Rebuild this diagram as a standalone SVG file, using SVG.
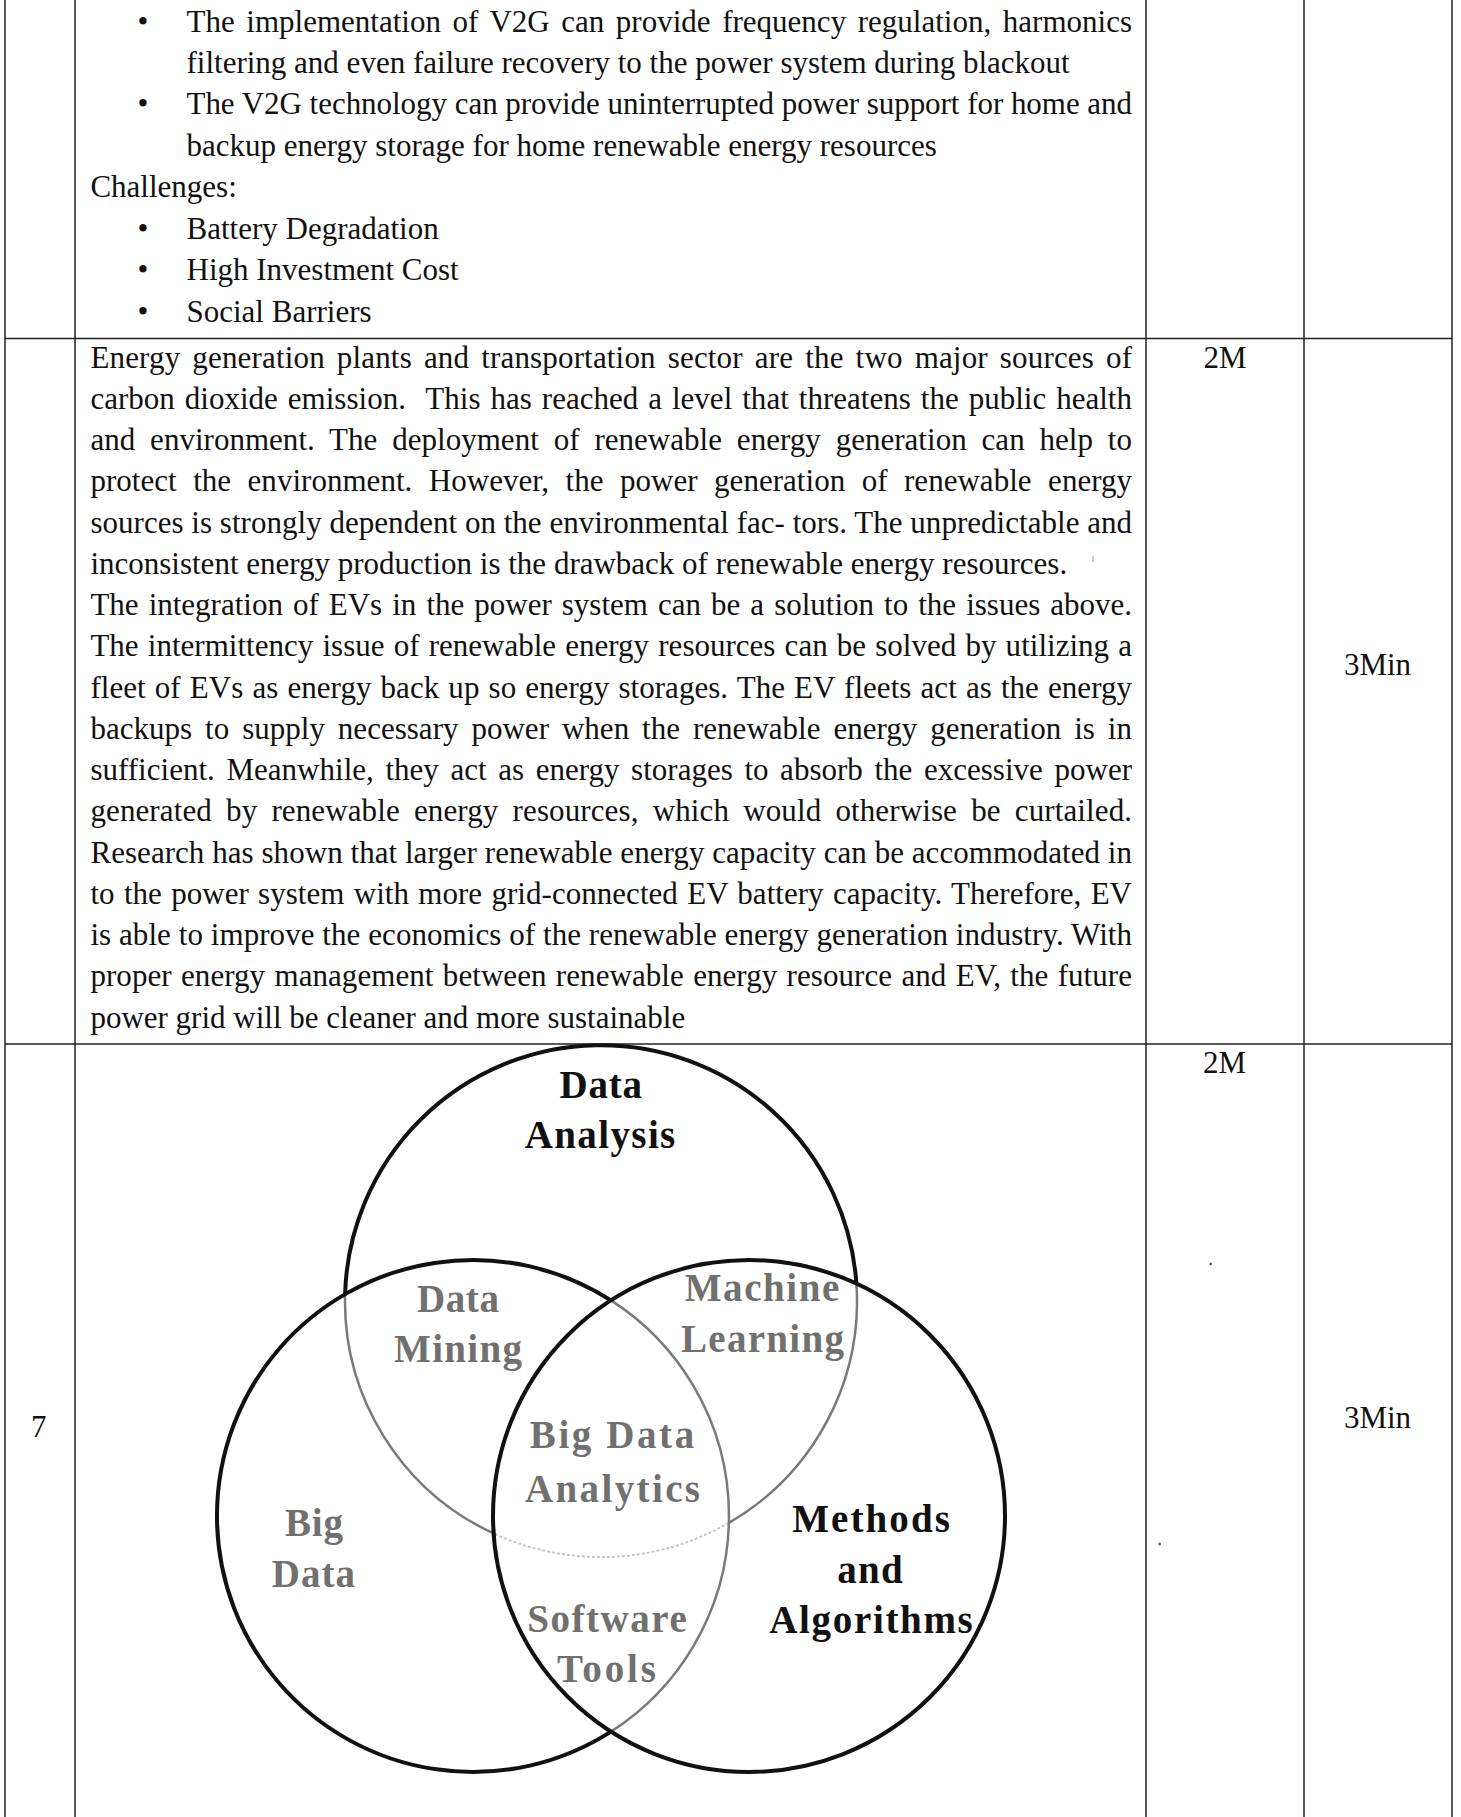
<svg xmlns="http://www.w3.org/2000/svg" width="1461" height="1817" viewBox="0 0 1461 1817">
<style>
.t{font-family:"Liberation Serif","Times New Roman",serif;font-size:31px;fill:#111}
.v{font-family:"Liberation Serif","Times New Roman",serif;font-size:39px;font-weight:bold}
.vb{fill:#111}
.vg{fill:#707070}
.grid{stroke:#222;stroke-width:1.5;fill:none}
.thick{stroke:#111;stroke-width:4;fill:none}
.gray{stroke:#7a7a7a;stroke-width:2.5;fill:none}
.faint{stroke:#c4c4c4;stroke-width:2;fill:none;stroke-dasharray:3 2}
</style>
<rect width="1461" height="1817" fill="#fff"/>
<g id="table">
<line class="grid" x1="5" y1="0" x2="5" y2="1817"/>
<line class="grid" x1="75" y1="0" x2="75" y2="1817"/>
<line class="grid" x1="1146" y1="0" x2="1146" y2="1817"/>
<line class="grid" x1="1304" y1="0" x2="1304" y2="1817"/>
<line class="grid" x1="1452" y1="0" x2="1452" y2="1817"/>
<line class="grid" x1="5" y1="338.5" x2="1452" y2="338.5"/>
<line class="grid" x1="5" y1="1044" x2="1452" y2="1044"/>
</g>
<g id="row-v2g">
<text class="t" x="137.5" y="31.5">•</text>
<text class="t" x="186.5" y="31.5" textLength="945.5" lengthAdjust="spacing" style="word-spacing:3.8px">The implementation of V2G can provide frequency regulation, harmonics</text>
<text class="t" x="186.5" y="72.9">filtering and even failure recovery to the power system during blackout</text>
<text class="t" x="137.5" y="114.4">•</text>
<text class="t" x="186.5" y="114.4" textLength="945.5" lengthAdjust="spacing">The V2G technology can provide uninterrupted power support for home and</text>
<text class="t" x="186.5" y="155.9">backup energy storage for home renewable energy resources</text>
<text class="t" x="90.4" y="197.3">Challenges:</text>
<text class="t" x="137.5" y="238.8">•</text>
<text class="t" x="186.5" y="238.8">Battery Degradation</text>
<text class="t" x="137.5" y="280.2">•</text>
<text class="t" x="186.5" y="280.2">High Investment Cost</text>
<text class="t" x="137.5" y="321.7">•</text>
<text class="t" x="186.5" y="321.7">Social Barriers</text>
</g>
<g id="row-renewable">
<text class="t" x="90.4" y="367.5" textLength="1041.6" lengthAdjust="spacing" style="word-spacing:4.15px">Energy generation plants and transportation sector are the two major sources of</text>
<text class="t" x="90.4" y="408.75" textLength="1041.6" lengthAdjust="spacing" style="word-spacing:2.2px" xml:space="preserve">carbon dioxide emission.  This has reached a level that threatens the public health</text>
<text class="t" x="90.4" y="450" textLength="1041.6" lengthAdjust="spacing" style="word-spacing:7.1px">and environment. The deployment of renewable energy generation can help to</text>
<text class="t" x="90.4" y="491.25" textLength="1041.6" lengthAdjust="spacing" style="word-spacing:8.7px">protect the environment. However, the power generation of renewable energy</text>
<text class="t" x="90.4" y="532.5" textLength="1041.6" lengthAdjust="spacing">sources is strongly dependent on the environmental fac- tors. The unpredictable and</text>
<text class="t" x="90.4" y="573.75">inconsistent energy production is the drawback of renewable energy resources.</text>
<text class="t" x="90.4" y="615" textLength="1041.6" lengthAdjust="spacing" style="word-spacing:2.3px">The integration of EVs in the power system can be a solution to the issues above.</text>
<text class="t" x="90.4" y="656.25" textLength="1041.6" lengthAdjust="spacing" style="word-spacing:1.4px">The intermittency issue of renewable energy resources can be solved by utilizing a</text>
<text class="t" x="90.4" y="697.5" textLength="1041.6" lengthAdjust="spacing" style="word-spacing:1.3px">fleet of EVs as energy back up so energy storages. The EV fleets act as the energy</text>
<text class="t" x="90.4" y="738.75" textLength="1041.6" lengthAdjust="spacing" style="word-spacing:5.2px">backups to supply necessary power when the renewable energy generation is in</text>
<text class="t" x="90.4" y="780" textLength="1041.6" lengthAdjust="spacing" style="word-spacing:3.8px">sufficient. Meanwhile, they act as energy storages to absorb the excessive power</text>
<text class="t" x="90.4" y="821.25" textLength="1041.6" lengthAdjust="spacing" style="word-spacing:6.3px">generated by renewable energy resources, which would otherwise be curtailed.</text>
<text class="t" x="90.4" y="862.5" textLength="1041.6" lengthAdjust="spacing">Research has shown that larger renewable energy capacity can be accommodated in</text>
<text class="t" x="90.4" y="903.75" textLength="1041.6" lengthAdjust="spacing" style="word-spacing:1.5px">to the power system with more grid-connected EV battery capacity. Therefore, EV</text>
<text class="t" x="90.4" y="945" textLength="1041.6" lengthAdjust="spacing">is able to improve the economics of the renewable energy generation industry. With</text>
<text class="t" x="90.4" y="986.25" textLength="1041.6" lengthAdjust="spacing" style="word-spacing:1.5px">proper energy management between renewable energy resource and EV, the future</text>
<text class="t" x="90.4" y="1027.5">power grid will be cleaner and more sustainable</text>
<text class="t" x="1225" y="367.5" text-anchor="middle">2M</text>
<text class="t" x="1377.5" y="675" text-anchor="middle">3Min</text>
<line x1="1093" y1="556" x2="1093" y2="562" stroke="#999" stroke-width="1"/>
</g>
<g id="row-7">
<text class="t" x="38.8" y="1436.7" text-anchor="middle">7</text>
<text class="t" x="1224.5" y="1072.7" text-anchor="middle">2M</text>
<text class="t" x="1377.5" y="1428" text-anchor="middle">3Min</text>
<circle cx="1210.7" cy="1264" r="1.2" fill="#444"/>
<circle cx="1159.7" cy="1544" r="1.2" fill="#444"/>
</g>
<g id="connectors">
<path class="gray" d="M 856.4 1283.6 A 256 256 0 0 1 728.9 1522.8"/>
<path class="faint" d="M 728.9 1522.8 A 256 256 0 0 1 493.6 1533.4"/>
<path class="gray" d="M 493.6 1533.4 A 256 256 0 0 1 345.1 1294.2"/>
<path class="gray" d="M 611 1300.4 A 256 256 0 0 1 611 1731.6"/>
</g>
<g id="circle-data-analysis">
<path class="thick" d="M 345.1 1294.2 A 256 256 0 0 1 856.4 1283.6"/>
<text class="v vb" x="559.4" y="1098" textLength="82.6" lengthAdjust="spacing">Data</text>
<text class="v vb" x="524.7" y="1148" textLength="150.6" lengthAdjust="spacing">Analysis</text>
</g>
<g id="circle-big-data">
<path class="thick" d="M 611 1300.4 A 256 256 0 1 0 611 1731.6"/>
<text class="v vg" x="285" y="1536" textLength="58" lengthAdjust="spacing">Big</text>
<text class="v vg" x="271.7" y="1587.3" textLength="83.3" lengthAdjust="spacing">Data</text>
</g>
<g id="circle-methods">
<circle class="thick" cx="749" cy="1516" r="256"/>
<text class="v vb" x="792.2" y="1531.7" textLength="157.7" lengthAdjust="spacing">Methods</text>
<text class="v vb" x="837.3" y="1583" textLength="65.4" lengthAdjust="spacing">and</text>
<text class="v vb" x="769.2" y="1633" textLength="203.6" lengthAdjust="spacing">Algorithms</text>
</g>
<g id="region-data-mining">
<text class="v vg" x="417.1" y="1311.7" textLength="81.8" lengthAdjust="spacing">Data</text>
<text class="v vg" x="394.1" y="1362" textLength="127.8" lengthAdjust="spacing">Mining</text>
</g>
<g id="region-machine-learning">
<text class="v vg" x="684.7" y="1300.7" textLength="154.7" lengthAdjust="spacing">Machine</text>
<text class="v vg" x="681" y="1351.7" textLength="163" lengthAdjust="spacing">Learning</text>
</g>
<g id="region-big-data-analytics">
<text class="v vg" x="529.8" y="1448" textLength="164.4" lengthAdjust="spacing">Big Data</text>
<text class="v vg" x="525" y="1501.7" textLength="175" lengthAdjust="spacing">Analytics</text>
</g>
<g id="region-software-tools">
<text class="v vg" x="527.2" y="1631.7" textLength="159.6" lengthAdjust="spacing">Software</text>
<text class="v vg" x="557.1" y="1681.7" textLength="98.8" lengthAdjust="spacing">Tools</text>
</g>
</svg>
